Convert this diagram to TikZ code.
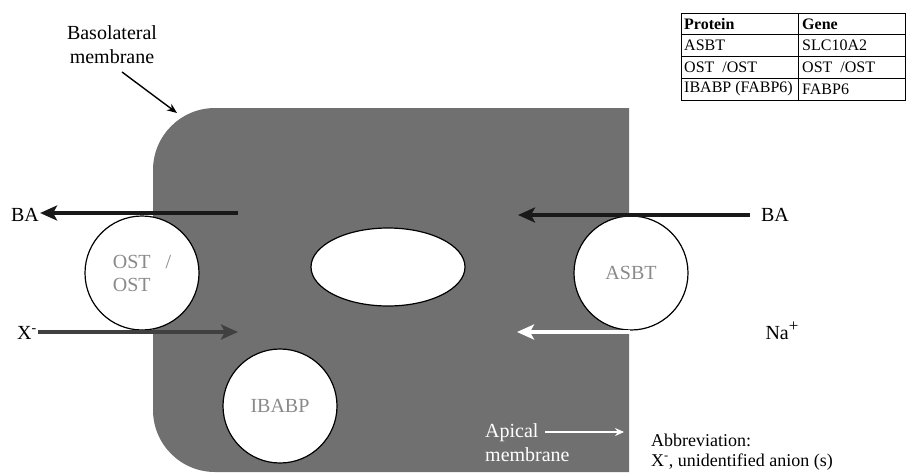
\documentclass[tikz,border=0pt]{standalone}
\usepackage{fontspec}
\setmainfont{Liberation Serif}
\usetikzlibrary{arrows.meta}

\definecolor{cellgray}{HTML}{707070}
\definecolor{labelgray}{HTML}{8A8A8A}
\definecolor{anionarrow}{HTML}{404040}

\tikzset{
  lbl/.style={font=\fontsize{20}{24}\selectfont, inner sep=1pt},
  carrier/.style={circle, draw=black, line width=1.2pt, fill=white, minimum size=114pt,
    inner sep=0pt, text=labelgray, font=\fontsize{20}{23}\selectfont},
  flux/.style={line width=4.5pt, -{Stealth[length=17pt,width=15pt,inset=4pt]}},
  tbl/.style={font=\fontsize{16}{18}\selectfont, anchor=west, inner sep=0pt},
}

\begin{document}
\begin{tikzpicture}[x=1pt,y=-1pt]
        \useasboundingbox (0,0) rectangle (907,472);
        % enterocyte
        \fill[cellgray] (629,108) -- (215,108) arc[start angle=270, end angle=180, radius=62]
            -- (153,410) arc[start angle=180, end angle=90, radius=62] -- (629,472) -- cycle;
        \filldraw[fill=white, draw=black, line width=1.2pt] (388,267) ellipse [x radius=77, y radius=39];

        % carriers
        \node[carrier, align=left] (ost) at (142,273) {OST\ \ \ /\\OST};
        \node[carrier] (asbt) at (631,273) {ASBT};
        \node[carrier] (ibabp) at (280,406) {IBABP};

        % labels
        \node[lbl, align=center] (baso) at (112,45) {Basolateral\\membrane};
        \node[lbl] (baleft) at (25,215) {BA};
        \node[lbl] (baright) at (775,215) {BA};
        \node[lbl] (anion) at (27,333) {X\textsuperscript{-}};
        \node[lbl] (sodium) at (782,331) {Na\raisebox{0.42em}{\fontsize{17}{17}\selectfont +}};
        \node[lbl, text=white, align=left, anchor=west] (apical) at (484,443) {Apical\\membrane};
        \node[font=\fontsize{18}{19.5}\selectfont, align=left, anchor=west, inner sep=0pt] (abbrev) at (651,452)
            {Abbreviation:\\X\textsuperscript{-}, unidentified anion (s)};

        % transport arrows
        \coordinate (basotail) at (122,72);
        \coordinate (basotip) at (177,113);
        \coordinate (effluxstart) at (238,213);
        \coordinate (uptaketip) at (518,215);
        \coordinate (aniontip) at (238,332);
        \coordinate (nastart) at (630,332);
        \coordinate (natip) at (517,332);
        \coordinate (apicaltail) at (545,432);
        \coordinate (apicaltip) at (624,432);
        \draw[line width=1.4pt, -{Stealth[length=10pt,width=8pt]}] (basotail) -- (basotip);
        \draw[flux, color=black!90] (effluxstart) -- (effluxstart -| baleft.east);
        \draw[flux, color=black!90, shorten <=10pt] (baright.west) -- (baright.west -| uptaketip);
        \draw[flux, color=anionarrow] (anion.east |- aniontip) -- (aniontip);
        \draw[flux, color=white] (nastart) -- (natip);
        \draw[line width=2pt, white, -{Stealth[length=9pt,width=8pt]}] (apicaltail) -- (apicaltip);

        % protein / gene table
        \draw[line width=0.9pt] (681,13) rectangle (905,100);
        \draw[line width=0.9pt] (798,13) -- (798,100);
        \foreach \y in {34.5,56,78}
            \draw[line width=0.9pt] (681,\y) -- (905,\y);
        \node[tbl, font=\fontsize{16}{18}\selectfont\bfseries] (hprot) at (684,24) {Protein};
        \node[tbl, font=\fontsize{16}{18}\selectfont\bfseries] (hgene) at (802,24) {Gene};
        \node[tbl] (pasbt) at (684,45.5) {ASBT};
        \node[tbl] (gasbt) at (802,45.5) {SLC10A2};
        \node[tbl] (post) at (684,67) {OST\ \ /OST};
        \node[tbl] (gost) at (802,67) {OST\ \ /OST};
        \node[tbl] (pibabp) at (684,89) {IBABP (FABP6)};
        \node[tbl] (gibabp) at (802,89) {FABP6};
    \end{tikzpicture}
\end{document}
